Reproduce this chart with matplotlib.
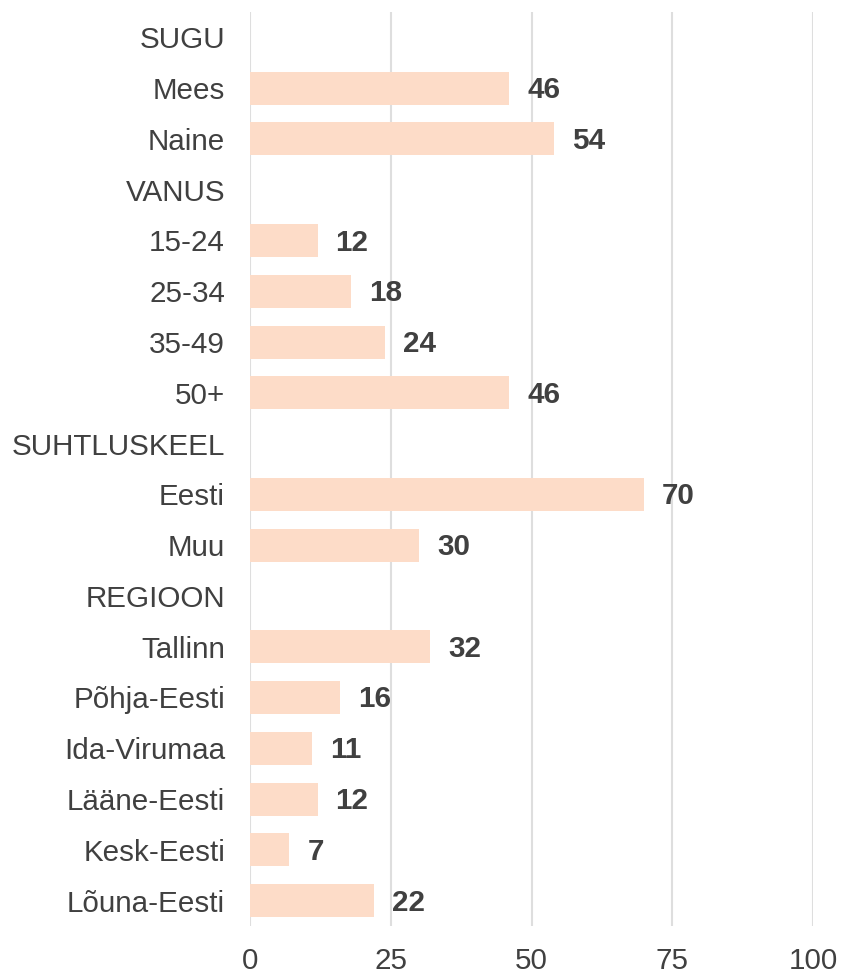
import matplotlib
matplotlib.use("Agg")
import matplotlib.pyplot as plt

categories = ["SUGU", "Mees", "Naine", "VANUS", "15-24", "25-34", "35-49", "50+",
              "SUHTLUSKEEL", "Eesti", "Muu", "REGIOON", "Tallinn", "Põhja-Eesti",
              "Ida-Virumaa", "Lääne-Eesti", "Kesk-Eesti", "Lõuna-Eesti"]
values = [None, 46, 54, None, 12, 18, 24, 46, None, 70, 30, None, 32, 16, 11, 12, 7, 22]
xticks = [0, 25, 50, 75, 100]

plt.rcParams['font.family'] = ['Liberation Sans', 'DejaVu Sans']
txt = '#404040'
fs = 21.3
fig = plt.figure(figsize=(8.43, 9.75), dpi=100)
ax = fig.add_axes([0.2966, 0.0503, 0.6678, 0.9374])

ys = list(range(len(categories)))
for y, v in zip(ys, values):
    if v is None:
        continue
    ax.barh(y, v, height=0.65, color='#FDDCC8', zorder=2)
    ax.text(v + 3.2, y + 0.04, str(v), va='center', ha='left', fontsize=fs,
            fontweight='bold', color=txt)

ax.set_ylim(len(categories) - 0.5, -0.5)
ax.set_xlim(0, 100)
ax.set_yticks(ys)
ax.set_yticklabels(categories, fontsize=fs, color=txt)
ax.set_xticks(xticks)
ax.set_xticklabels([str(t) for t in xticks], fontsize=fs, color=txt)
ax.tick_params(axis='y', length=0, pad=18)
ax.tick_params(axis='x', length=0, pad=15)
ax.grid(axis='x', color='#dedede', linewidth=1.5, zorder=0)
ax.set_axisbelow(True)
for s in ax.spines.values():
    s.set_visible(False)

fig.savefig('out.png', dpi=100)
